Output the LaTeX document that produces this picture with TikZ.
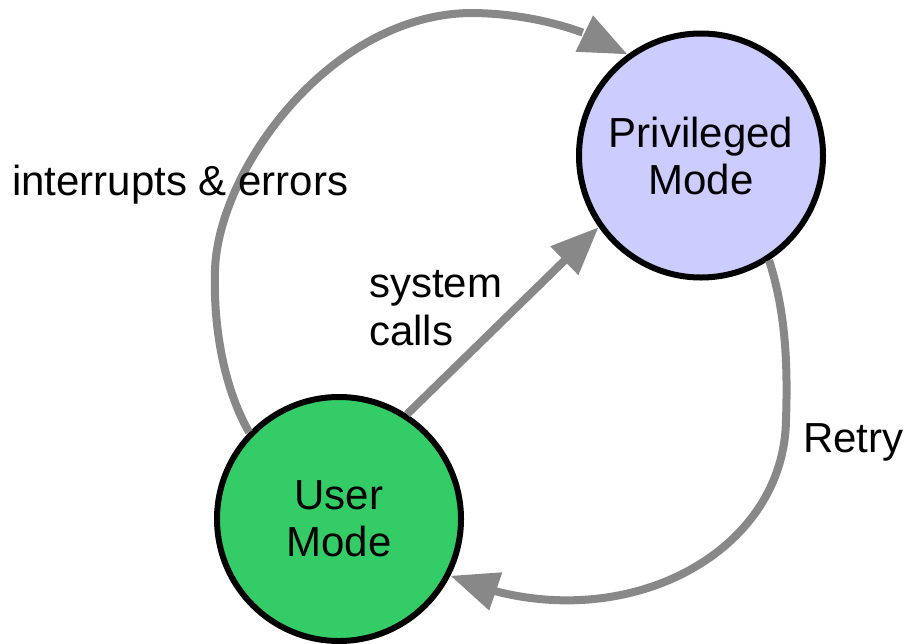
\documentclass[tikz,border=0pt]{standalone}
\usepackage{fontspec}
\setmainfont{Liberation Sans}
\usetikzlibrary{arrows.meta,bending}
\definecolor{usergreen}{RGB}{51,204,102}
\definecolor{privblue}{RGB}{204,204,255}
\definecolor{arrowgray}{RGB}{136,136,136}
\begin{document}
\begin{tikzpicture}[x=1pt,y=-1pt,
  modecircle/.style={circle,draw=black,line width=6pt,minimum size=244pt,
    inner sep=0pt,align=center,font=\fontsize{42}{47}\selectfont},
  flow/.style={draw=arrowgray,line width=8pt,
    -{Triangle[length=48pt,width=38pt,flex]}},
  lbl/.style={inner sep=0pt,font=\fontsize{42}{48}\selectfont}]
  \useasboundingbox (0,0) rectangle (907,643);

  % the two modes
  \node[modecircle,fill=usergreen] (user) at (339,519) {User\\Mode};
  \node[modecircle,fill=privblue] (priv) at (701,155.5) {Privileged\\Mode};

  % waypoints of the curved connectors
  \coordinate (i1) at (215,270);
  \coordinate (i2) at (470,13);
  \coordinate (r1) at (786,420);

  % interrupts & errors: user -> privileged, around the top left
  \draw[flow] (user.136) .. controls (225,390) and (213,330) .. (i1)
     .. controls (218,170) and (330,15) .. (i2)
     .. controls (530,13) and (590,30) .. (priv.126);

  % system calls: straight connector
  \draw[flow] (user.57) -- (priv.215);

  % retry: privileged -> user, around the bottom right
  \draw[flow] (priv.303) .. controls (785,310) and (788,360) .. (r1)
     .. controls (784,560) and (610,645) .. (user.333);

  % labels
  \node[lbl,anchor=base west] (lint) at (12,195) {interrupts \& errors};
  \node[lbl,anchor=base west,align=left] (lsys) at (369,345) {system\\calls};
  \node[lbl,anchor=base west] (lretry) at (803,452) {Retry};
\end{tikzpicture}
\end{document}
